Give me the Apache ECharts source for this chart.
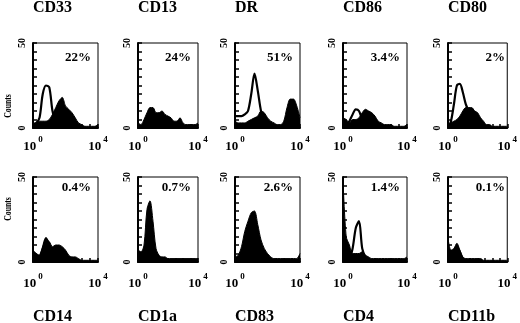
<!DOCTYPE html>
<html lang="en">
<head>
	<meta charset="UTF-8">
	<title>Flow histograms</title>
	<style>
	body, div {
		margin: 0;
		padding: 0;
	}
	#chart {
		width: 520px;
		height: 323px;
		background: #fff;
	}
	</style>
</head>
<body>
	<div id="chart"></div>

	<script src="https://cdn.jsdelivr.net/npm/echarts@6/dist/echarts.min.js"></script>

	<script>
	// fluorescence in log decades, 10^0 .. 10^4
	var logX = [0, 0.2, 0.4, 0.6, 0.8, 1.0, 1.2, 1.4, 1.6, 1.8, 2.0, 2.2, 2.4, 2.6, 2.8, 3.0, 3.2, 3.4, 3.6, 3.8, 4.0];
	var xTickLabels = {0: '0', 4: '4'};
	var yTickLabels = {0: '0', 50: '50'};
	var yMax = 50;

	var markers = ['CD33', 'CD13', 'DR', 'CD86', 'CD80', 'CD14', 'CD1a', 'CD83', 'CD4', 'CD11b'];
	var percents = ['22%', '24%', '51%', '3.4%', '2%', '0.4%', '0.7%', '2.6%', '1.4%', '0.1%'];

	// isotype control (open) and stained (filled) counts
	var isoCD33  = [2, 3, 6, 20, 25, 24, 10, 3, 1, 0, 0, 0, 0, 0, 0, 0, 0, 0, 0, 0, 0];
	var posCD33  = [3, 3, 4, 4, 4, 5, 8, 12, 16, 18, 13, 11, 9, 6, 3, 2, 1, 1, 1, 1, 2];
	var isoCD13  = [1, 1, 2, 4, 11, 11, 4, 2, 1, 0, 0, 0, 0, 0, 0, 0, 0, 0, 0, 0, 0];
	var posCD13  = [3, 2, 5, 9, 12, 12, 9, 9, 10, 8, 7, 6, 4, 4, 6, 3, 2, 2, 2, 2, 3];
	var isoDR    = [7, 7, 7, 8, 10, 20, 32, 22, 10, 4, 2, 1, 0, 0, 0, 0, 0, 0, 0, 0, 0];
	var posDR    = [4, 3, 3, 3, 4, 5, 6, 7, 10, 9, 6, 4, 3, 2, 2, 4, 12, 17, 17, 13, 6];
	var isoCD86  = [0, 1, 4, 8, 11, 10, 5, 2, 1, 0, 0, 0, 0, 0, 0, 0, 0, 0, 0, 0, 0];
	var posCD86  = [6, 5, 3, 5, 5, 6, 9, 11, 10, 9, 7, 4, 3, 2, 2, 2, 1, 1, 1, 1, 2];
	var isoCD80  = [0, 4, 14, 25, 26, 21, 14, 10, 5, 2, 1, 0, 0, 0, 0, 0, 0, 0, 0, 0, 0];
	var posCD80  = [1, 3, 4, 5, 7, 10, 12, 12, 12, 10, 9, 6, 4, 2, 2, 1, 1, 1, 1, 1, 1];
	var isoCD14  = [0, 1, 3, 8, 14, 10, 4, 2, 1, 0, 0, 0, 0, 0, 0, 0, 0, 0, 0, 0, 0];
	var posCD14  = [7, 5, 4, 9, 13, 12, 9, 10, 10, 9, 7, 4, 3, 3, 2, 1, 1, 1, 1, 1, 1];
	var isoCD1a  = [0, 1, 3, 10, 18, 8, 3, 1, 0, 0, 0, 0, 0, 0, 0, 0, 0, 0, 0, 0, 0];
	var posCD1a  = [7, 6, 10, 31, 36, 24, 8, 4, 3, 3, 2, 2, 2, 2, 2, 2, 2, 2, 2, 2, 2];
	var isoCD83  = [0, 1, 3, 8, 15, 20, 18, 10, 4, 1, 0, 0, 0, 0, 0, 0, 0, 0, 0, 0, 0];
	var posCD83  = [3, 4, 9, 18, 24, 29, 30, 22, 13, 8, 5, 3, 2, 2, 2, 2, 2, 2, 2, 2, 5];
	var isoCD4   = [0, 1, 2, 8, 20, 24, 8, 3, 1, 0, 0, 0, 0, 0, 0, 0, 0, 0, 0, 0, 0];
	var posCD4   = [48, 15, 10, 5, 5, 5, 6, 4, 3, 2, 2, 2, 2, 2, 2, 2, 2, 2, 2, 2, 3];
	var isoCD11b = [0, 1, 5, 9, 6, 2, 1, 0, 0, 0, 0, 0, 0, 0, 0, 0, 0, 0, 0, 0, 0];
	var posCD11b = [14, 7, 8, 11, 7, 3, 2, 2, 2, 2, 2, 2, 1, 1, 1, 1, 1, 1, 1, 1, 1];

	var isoList = [isoCD33, isoCD13, isoDR, isoCD86, isoCD80, isoCD14, isoCD1a, isoCD83, isoCD4, isoCD11b];
	var posList = [posCD33, posCD13, posDR, posCD86, posCD80, posCD14, posCD1a, posCD83, posCD4, posCD11b];

	// panel layout
	var colLeft = [33, 138, 235, 343, 448];
	var colWidth = [65, 60, 65, 64, 64];
	var rowTop = [43, 177];
	var boxH = 85;
	var serif = '"Liberation Serif", "DejaVu Serif", serif';

	function pairs(ys) {
		return logX.map(function (x, i) { return [x, ys[i]]; });
	}

	function drawPanels(id) {
		var grids = [], xAxes = [], yAxes = [], series = [], graphics = [];

		for (var i = 0; i < markers.length; i++) {
			var row = Math.floor(i / 5), col = i % 5;
			var gLeft = colLeft[col], gTop = rowTop[row], gW = colWidth[col];

			grids.push({
				left: gLeft, top: gTop, width: gW, height: boxH,
				show: true, borderColor: '#000', borderWidth: 1
			});

			xAxes.push({
				gridIndex: i, type: 'value', min: 0, max: 4, interval: 0.5, z: 10,
				axisLine: { lineStyle: { color: '#000', width: 2 } },
				axisTick: { show: true, inside: true, length: 4, lineStyle: { color: '#000', width: 1.5 } },
				splitLine: { show: false },
				axisLabel: {
					margin: row ? 10 : 7,
					showMinLabel: true, showMaxLabel: true,
					formatter: function (v) {
						return xTickLabels[v] ? '{n|10}{s|' + xTickLabels[v] + '}' : '';
					},
					rich: {
						n: { fontFamily: serif, fontWeight: 'bold', fontSize: 13, color: '#000', verticalAlign: 'bottom' },
						s: { fontFamily: serif, fontWeight: 'bold', fontSize: 9, color: '#000', verticalAlign: 'bottom', padding: [0, 0, 9, 2] }
					}
				}
			});

			yAxes.push({
				gridIndex: i, type: 'value', min: 0, max: yMax, interval: 5, z: 10,
				axisLine: { show: true, lineStyle: { color: '#000', width: 2 } },
				axisTick: { show: true, inside: true, length: 4, lineStyle: { color: '#000', width: 1.5 } },
				splitLine: { show: false },
				axisLabel: {
					rotate: 90, margin: 6, color: '#000',
					showMinLabel: true, showMaxLabel: true,
					fontFamily: serif, fontWeight: 'bold', fontSize: 10,
					formatter: function (v) { return yTickLabels[v] || ''; }
				}
			});

			// open isotype histogram under the filled one
			series.push({
				type: 'line', xAxisIndex: i, yAxisIndex: i, z: 2,
				data: pairs(isoList[i]), symbol: 'none', smooth: 0.3,
				lineStyle: { color: '#000', width: 2.2 },
				areaStyle: { color: '#fff', opacity: 1 }
			});
			series.push({
				type: 'line', xAxisIndex: i, yAxisIndex: i, z: 3,
				data: pairs(posList[i]), symbol: 'none', smooth: 0.3,
				lineStyle: { color: '#000', width: 1 },
				areaStyle: { color: '#000', opacity: 1 }
			});

			graphics.push({
				type: 'text', x: gLeft, y: row ? 317 : 8,
				style: { text: markers[i], font: 'bold 16px ' + serif, fill: '#000', align: 'left', verticalAlign: 'middle' }
			});
			graphics.push({
				type: 'text', x: gLeft + gW - 7, y: gTop + (row ? 11 : 15), z: 10,
				style: { text: percents[i], font: 'bold 13px ' + serif, fill: '#000', align: 'right', verticalAlign: 'middle' }
			});
		}

		[106, 209].forEach(function (cy) {
			graphics.push({
				type: 'text', x: 8, y: cy, rotation: Math.PI / 2, scaleX: 0.7,
				style: { text: 'Counts', font: 'bold 11px ' + serif, fill: '#000', align: 'center', verticalAlign: 'middle' }
			});
		});

		var myChart = echarts.init(document.getElementById(id));
		myChart.setOption({
			animation: false,
			backgroundColor: '#fff',
			grid: grids,
			xAxis: xAxes,
			yAxis: yAxes,
			series: series,
			graphic: graphics
		});
	}

	drawPanels('chart');
	</script>
</body>
</html>
